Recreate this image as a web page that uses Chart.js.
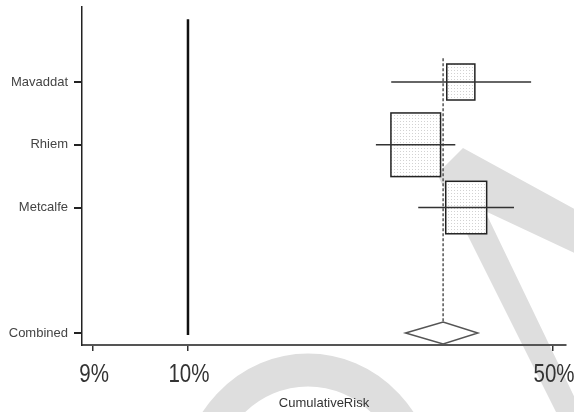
<!DOCTYPE html>
<html>
<head>
<meta charset="utf-8">
<script src="https://cdn.jsdelivr.net/npm/chart.js@4/dist/chart.umd.min.js"></script>
<style>
  html, body { margin: 0; padding: 0; background: #fff; }
  #wrap { width: 574px; height: 412px; }
</style>
</head>
<body>
<div id="wrap"><canvas id="c" width="574" height="412"></canvas></div>
<script>
// Study estimates of cumulative risk (%), with 95% intervals
const studies = ['Mavaddat', 'Rhiem', 'Metcalfe'];
const estimates = [33.3, 27.3, 34.1];
const lower = [24.5, 22.9, 27.6];
const upper = [45.4, 32.5, 42.1];
const weights = [0.16, 0.50, 0.34];
const studyRows = [5, 4, 3];

// Pooled result
const combinedLabel = 'Combined';
const combinedEstimate = 30.8;
const combinedLower = 26.1;
const combinedUpper = 35.9;
const combinedRow = 1;

// Reference risk line
const referenceRisk = 10;

// Axis ticks
const tickValues = [6.58, 10, 50];
const tickLabels = ['9%', '10%', '50%'];
const axisTitle = 'CumulativeRisk';

const rowLabels = {};
studies.forEach((s, i) => { rowLabels[studyRows[i]] = s; });
rowLabels[combinedRow] = combinedLabel;

function dotPattern(ctx) {
  const p = document.createElement('canvas');
  p.width = 3; p.height = 3;
  const g = p.getContext('2d');
  g.fillStyle = '#ffffff'; g.fillRect(0, 0, 3, 3);
  g.fillStyle = '#d2d2d2'; g.fillRect(1, 1, 1, 1);
  return ctx.createPattern(p, 'repeat');
}

// Light grey logo behind the plot
const watermark = {
  id: 'watermark',
  beforeDraw(chart) {
    const ctx = chart.ctx;
    ctx.save();
    ctx.fillStyle = '#ffffff';
    ctx.fillRect(0, 0, chart.width, chart.height);
    ctx.fillStyle = '#dedede';
    ctx.beginPath();
    ctx.moveTo(463, 148);
    ctx.lineTo(600, 223);
    ctx.lineTo(600, 265);
    ctx.lineTo(485, 211);
    ctx.lineTo(595, 440);
    ctx.lineTo(570, 440);
    ctx.lineTo(437, 174);
    ctx.closePath();
    ctx.fill();
    ctx.strokeStyle = '#dedede';
    ctx.lineWidth = 33;
    ctx.beginPath();
    ctx.ellipse(308, 490, 112, 120, 0, Math.PI, 2 * Math.PI);
    ctx.stroke();
    ctx.restore();
  }
};

// Boxes, interval whiskers, pooled diamond and vertical guides
const forest = {
  id: 'forest',
  afterDatasetsDraw(chart) {
    const { ctx } = chart;
    const x = chart.scales.x, y = chart.scales.y;
    ctx.save();

    const rx = x.getPixelForValue(referenceRisk);
    ctx.strokeStyle = '#111';
    ctx.lineWidth = 2.5;
    ctx.beginPath();
    ctx.moveTo(rx, y.getPixelForValue(6));
    ctx.lineTo(rx, y.getPixelForValue(combinedRow - 0.03));
    ctx.stroke();

    const cx = x.getPixelForValue(combinedEstimate);
    const cy = y.getPixelForValue(combinedRow);
    const dh = 11;
    ctx.setLineDash([3, 2]);
    ctx.strokeStyle = '#555';
    ctx.lineWidth = 1.5;
    ctx.beginPath();
    ctx.moveTo(cx, y.getPixelForValue(5.38));
    ctx.lineTo(cx, cy - dh);
    ctx.stroke();
    ctx.setLineDash([]);

    const pat = dotPattern(ctx);
    studies.forEach((s, i) => {
      const px = x.getPixelForValue(estimates[i]);
      const py = y.getPixelForValue(studyRows[i]);
      const h = Math.sqrt(weights[i]) * 90;
      const w = h * 0.78;
      ctx.fillStyle = pat;
      ctx.fillRect(px - w / 2, py - h / 2, w, h);
      ctx.strokeStyle = '#222';
      ctx.lineWidth = 1.5;
      ctx.strokeRect(px - w / 2, py - h / 2, w, h);
      ctx.strokeStyle = '#333';
      ctx.lineWidth = 1.5;
      ctx.beginPath();
      ctx.moveTo(x.getPixelForValue(lower[i]), py);
      ctx.lineTo(x.getPixelForValue(upper[i]), py);
      ctx.stroke();
    });

    ctx.fillStyle = '#fff';
    ctx.strokeStyle = '#555';
    ctx.lineWidth = 1.5;
    ctx.beginPath();
    ctx.moveTo(x.getPixelForValue(combinedLower), cy);
    ctx.lineTo(cx, cy - dh);
    ctx.lineTo(x.getPixelForValue(combinedUpper), cy);
    ctx.lineTo(cx, cy + dh);
    ctx.closePath();
    ctx.fill();
    ctx.stroke();
    ctx.restore();
  }
};

// Large narrow-set tick labels under the risk axis
const narrowTicks = {
  id: 'narrowTicks',
  afterDraw(chart) {
    const { ctx } = chart;
    const x = chart.scales.x;
    ctx.save();
    ctx.fillStyle = '#333';
    ctx.font = "25px 'Liberation Sans', Arial, sans-serif";
    ctx.textAlign = 'center';
    ctx.textBaseline = 'alphabetic';
    tickValues.forEach((v, i) => {
      ctx.save();
      ctx.translate(x.getPixelForValue(v) + 1, x.top + 37);
      ctx.scale(0.82, 1);
      ctx.fillText(tickLabels[i], 0, 0);
      ctx.restore();
    });
    ctx.restore();
  }
};

const points = studies.map((s, i) => ({ x: estimates[i], y: studyRows[i] }));
points.push({ x: combinedEstimate, y: combinedRow });

new Chart(document.getElementById('c'), {
  type: 'scatter',
  data: {
    datasets: [{ data: points, pointRadius: 0, pointHoverRadius: 0 }]
  },
  options: {
    responsive: false,
    animation: false,
    events: [],
    layout: { padding: { top: 7, right: 8, left: 0, bottom: 0 } },
    plugins: { legend: { display: false }, tooltip: { enabled: false } },
    scales: {
      x: {
        type: 'logarithmic',
        position: 'bottom',
        min: 6.267,
        max: 52.95,
        border: { display: true, color: '#555', width: 2 },
        grid: { display: true, drawOnChartArea: false, drawTicks: true, tickLength: 6, color: '#333', lineWidth: 1.5 },
        afterBuildTicks: s => { s.ticks = tickValues.map(v => ({ value: v })); },
        ticks: { display: false },
        title: {
          display: true, text: axisTitle, color: '#333',
          font: { family: "'Liberation Sans', Arial, sans-serif", size: 13 },
          padding: { top: 0, bottom: 1 }
        },
        afterFit: s => { s.height = 67; s.paddingLeft = 0; s.paddingRight = 0; }
      },
      y: {
        type: 'linear',
        min: 0.81,
        max: 6.195,
        border: { display: true, color: '#222', width: 1.5 },
        grid: { display: true, drawOnChartArea: false, drawTicks: true, tickLength: 8, color: '#222', lineWidth: 2 },
        afterBuildTicks: s => { s.ticks = Object.keys(rowLabels).map(Number).sort((a, b) => a - b).map(v => ({ value: v })); },
        ticks: {
          autoSkip: false, padding: 6, color: '#444',
          font: { family: "'Liberation Sans', Arial, sans-serif", size: 13 },
          callback: v => rowLabels[v] || ''
        },
        afterFit: s => { s.width = 82; s.paddingTop = 0; s.paddingBottom = 0; }
      }
    }
  },
  plugins: [watermark, forest, narrowTicks]
});
</script>
</body>
</html>
